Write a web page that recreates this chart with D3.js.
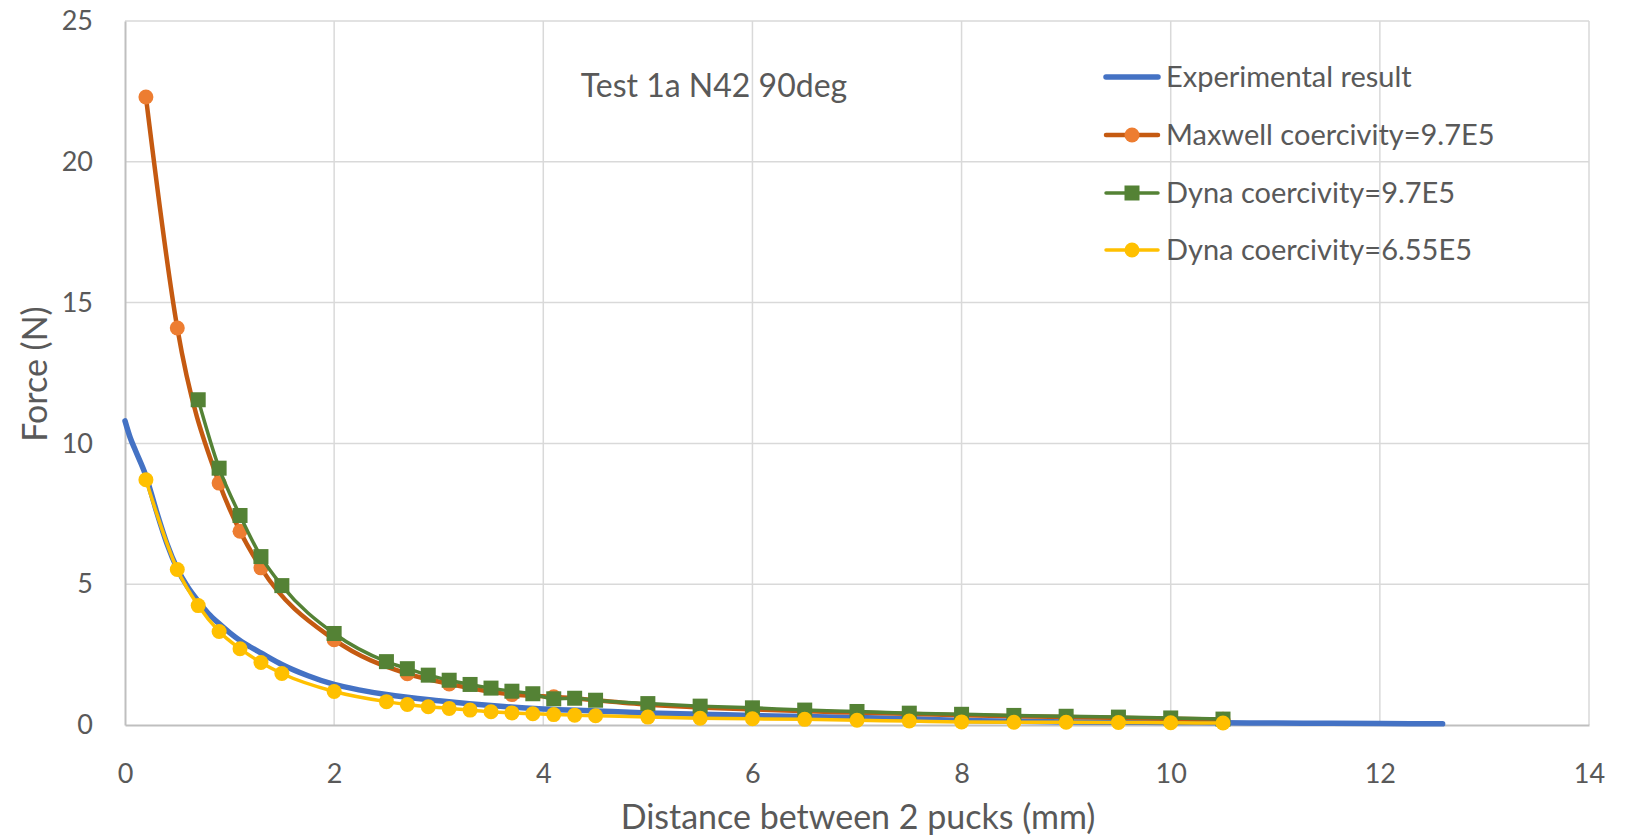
<!DOCTYPE html>
<html>
<head>
<meta charset="utf-8">
<script src="https://cdn.jsdelivr.net/npm/d3@7"></script>
<style>
  body { margin: 0; background: #fff; }
  text { font-family: Lato, "Open Sans", sans-serif; fill: #595959; }
</style>
</head>
<body>
<div id="chart"></div>
<script>
// chart data
const xTicks = [0, 2, 4, 6, 8, 10, 12, 14]
const yTicks = [0, 5, 10, 15, 20, 25]

// experimental result (distance mm, force N)
const expX = [0, 0.05, 0.1, 0.2, 0.3, 0.4, 0.5, 0.6, 0.7, 0.8, 0.9, 1.0, 1.1, 1.2, 1.3, 1.5, 1.75, 2, 2.25, 2.5, 3, 3.5, 4, 4.5, 5, 5.5, 6, 6.5, 7, 7.5, 8, 8.5, 9, 9.5, 10, 10.5, 11, 11.5, 12, 12.6]
const expY = [10.8, 10.2, 9.75, 8.85, 7.6, 6.45, 5.55, 4.9, 4.4, 3.95, 3.6, 3.28, 3.0, 2.77, 2.56, 2.15, 1.75, 1.44, 1.24, 1.08, 0.86, 0.69, 0.57, 0.5, 0.43, 0.38, 0.34, 0.3, 0.27, 0.22, 0.16, 0.13, 0.11, 0.1, 0.09, 0.08, 0.07, 0.06, 0.05, 0.04]

// Maxwell coercivity=9.7E5
const maxX = [0.2, 0.5, 0.9, 1.1, 1.3, 2, 2.7, 3.1, 3.7, 4.1, 5, 6, 7, 8, 9, 10, 10.5]
const maxY = [22.3, 14.1, 8.59, 6.88, 5.58, 3.03, 1.82, 1.46, 1.08, 1.0, 0.72, 0.55, 0.44, 0.35, 0.28, 0.22, 0.2]

// Dyna coercivity=9.7E5
const dynaX = [0.7, 0.9, 1.1, 1.3, 1.5, 2, 2.5, 2.7, 2.9, 3.1, 3.3, 3.5, 3.7, 3.9, 4.1, 4.3, 4.5, 5, 5.5, 6, 6.5, 7, 7.5, 8, 8.5, 9, 9.5, 10, 10.5]
const dynaY = [11.55, 9.12, 7.44, 5.98, 4.95, 3.25, 2.25, 2.0, 1.77, 1.59, 1.44, 1.31, 1.2, 1.11, 0.93, 0.95, 0.88, 0.76, 0.67, 0.61, 0.53, 0.48, 0.42, 0.38, 0.34, 0.31, 0.28, 0.25, 0.21]

// Dyna coercivity=6.55E5
const dyna2X = [0.2, 0.5, 0.7, 0.9, 1.1, 1.3, 1.5, 2, 2.5, 2.7, 2.9, 3.1, 3.3, 3.5, 3.7, 3.9, 4.1, 4.3, 4.5, 5, 5.5, 6, 6.5, 7, 7.5, 8, 8.5, 9, 9.5, 10, 10.5]
const dyna2Y = [8.71, 5.52, 4.24, 3.32, 2.71, 2.22, 1.83, 1.19, 0.83, 0.73, 0.65, 0.59, 0.53, 0.47, 0.43, 0.4, 0.37, 0.35, 0.33, 0.28, 0.24, 0.22, 0.2, 0.17, 0.14, 0.11, 0.1, 0.1, 0.09, 0.08, 0.07]

const seriesNames = ["Experimental result", "Maxwell coercivity=9.7E5", "Dyna coercivity=9.7E5", "Dyna coercivity=6.55E5"]

const W = 1632, H = 838
const margin = { top: 21, right: 43, bottom: 113, left: 125 }
const width = W - margin.left - margin.right
const height = H - margin.top - margin.bottom

const svg = d3.select("#chart").append("svg")
    .attr("width", W)
    .attr("height", H)
const g = svg.append("g")
    .attr("transform", "translate(" + margin.left + "," + margin.top + ")")

const x = d3.scaleLinear().domain([0, 14]).range([0, width])
const y = d3.scaleLinear().domain([0, 25]).range([height, 0])

// gridlines
g.append("g").selectAll("line")
  .data(yTicks.filter(d => d > 0))
  .enter().append("line")
    .attr("x1", 0).attr("x2", width)
    .attr("y1", d => y(d)).attr("y2", d => y(d))
    .attr("stroke", "#d9d9d9").attr("stroke-width", 1.5)
g.append("g").selectAll("line")
  .data(xTicks.filter(d => d > 0))
  .enter().append("line")
    .attr("y1", 0).attr("y2", height)
    .attr("x1", d => x(d)).attr("x2", d => x(d))
    .attr("stroke", "#d9d9d9").attr("stroke-width", 1.5)

// axes
const xAxis = g.append("g")
    .attr("transform", "translate(0," + height + ")")
    .call(d3.axisBottom(x).tickValues(xTicks).tickSize(0).tickPadding(39))
const yAxis = g.append("g")
    .call(d3.axisLeft(y).tickValues(yTicks).tickSize(0).tickPadding(32))
;[xAxis, yAxis].forEach(a => {
  a.select(".domain").attr("stroke", "#bfbfbf").attr("stroke-width", 2)
  a.selectAll("text").style("font-size", "27px").style("fill", "#595959").style("font-family", "Lato, sans-serif")
})

// axis titles
svg.append("text")
    .attr("x", 858)
    .attr("y", 829)
    .attr("text-anchor", "middle")
    .style("font-size", "34px")
    .text("Distance between 2 pucks (mm)")
svg.append("text")
    .attr("transform", "translate(47," + 374 + ") rotate(-90)")
    .attr("text-anchor", "middle")
    .style("font-size", "34px")
    .text("Force (N)")

// chart title inside plot
svg.append("text")
    .attr("x", 714)
    .attr("y", 97)
    .attr("text-anchor", "middle")
    .style("font-size", "32px")
    .text("Test 1a N42 90deg")

function pts(xs, ys) { return xs.map((d, i) => [d, ys[i]]) }

const line = d3.line()
    .x(d => x(d[0]))
    .y(d => y(d[1]))
    .curve(d3.curveMonotoneX)

const series = [
  { name: seriesNames[0], data: pts(expX, expY), line: "#4472c4", lw: 5.5, marker: null },
  { name: seriesNames[1], data: pts(maxX, maxY), line: "#c55a11", lw: 4.5, marker: "circle", fill: "#ed7d31" },
  { name: seriesNames[2], data: pts(dynaX, dynaY), line: "#548235", lw: 3.5, marker: "square", fill: "#548235" },
  { name: seriesNames[3], data: pts(dyna2X, dyna2Y), line: "#ffc000", lw: 3.5, marker: "circle", fill: "#ffc000" }
]

series.forEach(s => {
  const sg = g.append("g")
  sg.append("path")
    .datum(s.data)
    .attr("fill", "none")
    .attr("stroke", s.line)
    .attr("stroke-width", s.lw)
    .attr("stroke-linecap", "round")
    .attr("d", line)
  if (s.marker == "circle") {
    sg.selectAll("circle")
      .data(s.data)
      .enter().append("circle")
        .attr("cx", d => x(d[0]))
        .attr("cy", d => y(d[1]))
        .attr("r", 7.5)
        .attr("fill", s.fill)
  } else if (s.marker == "square") {
    sg.selectAll("rect")
      .data(s.data)
      .enter().append("rect")
        .attr("x", d => x(d[0]) - 7.5)
        .attr("y", d => y(d[1]) - 7.5)
        .attr("width", 15)
        .attr("height", 15)
        .attr("fill", s.fill)
  }
})

// legend
const legend = svg.append("g")
const legY = [77, 135, 193, 250]
series.forEach((s, i) => {
  const lg = legend.append("g").attr("transform", "translate(1106," + legY[i] + ")")
  lg.append("line")
    .attr("x1", 0).attr("x2", 52)
    .attr("stroke", s.line).attr("stroke-width", s.lw)
    .attr("stroke-linecap", "round")
  if (s.marker == "circle") {
    lg.append("circle").attr("cx", 26).attr("r", 7.5).attr("fill", s.fill)
  } else if (s.marker == "square") {
    lg.append("rect").attr("x", 18.5).attr("y", -7.5).attr("width", 15).attr("height", 15).attr("fill", s.fill)
  }
  lg.append("text")
    .attr("x", 60)
    .attr("y", 10)
    .style("font-size", "29px")
    .text(s.name)
})
</script>
</body>
</html>
